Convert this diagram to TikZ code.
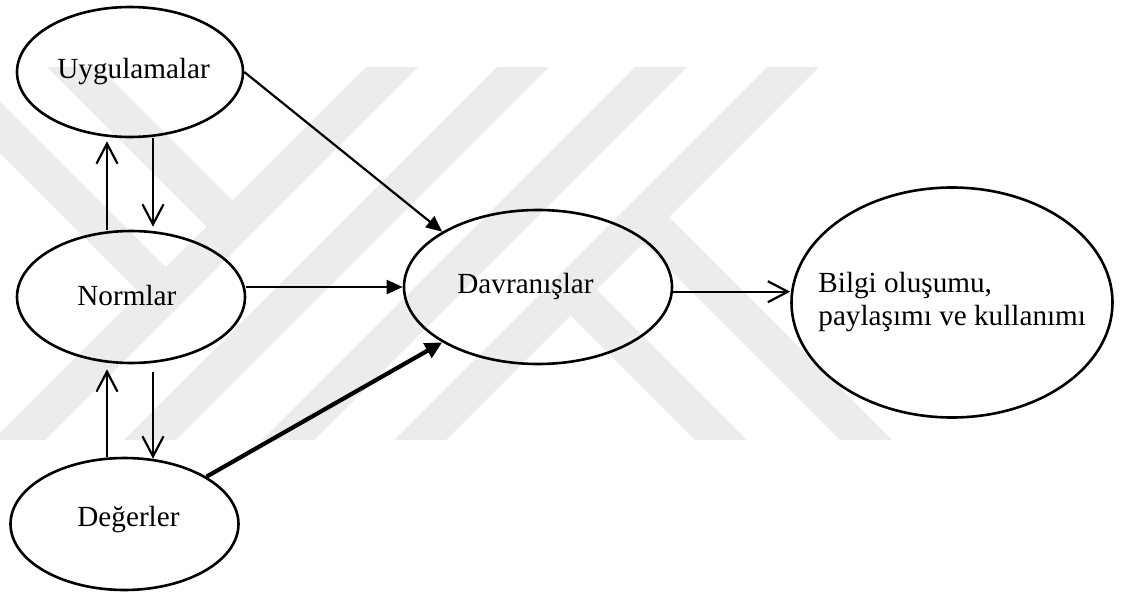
\documentclass[tikz,border=0pt]{standalone}
\usepackage{fontspec}
\setmainfont{Liberation Serif}
\usetikzlibrary{shapes.geometric,arrows.meta,calc}
\definecolor{wmgray}{RGB}{236,236,236}
\begin{document}
\begin{tikzpicture}[x=0.5pt,y=-0.5pt,
  bubble/.style={draw,ellipse,line width=1.3pt,inner sep=0pt},
  caption/.style={inner sep=0pt,anchor=base west,font=\fontsize{14.6pt}{16.5pt}\selectfont},
  link/.style={line width=1.1pt},
  thicklink/.style={line width=2.1pt},
  solidhead/.style={-{Triangle[length=8pt,width=7pt]}},
  bighead/.style={-{Triangle[length=8.5pt,width=8pt]}},
  openhead/.style={-{Straight Barb[length=10pt,width=10.5pt]}},
]
\useasboundingbox (0,0) rectangle (1130,594);

% faint background emblem
\begin{scope}
  \clip (0,0) rectangle (1130,594);
  \fill[wmgray] (-7,440)--(45,440)--(418,67)--(366,67)--cycle;
  \fill[wmgray] (124,440)--(176,440)--(549,67)--(497,67)--cycle;
  \fill[wmgray] (262,440)--(314,440)--(687,67)--(635,67)--cycle;
  \fill[wmgray] (394,440)--(446,440)--(819,67)--(767,67)--cycle;
  \fill[wmgray] (47,67)--(99,67)--(245.5,213.5)--(219.5,239.5)--cycle;
  \fill[wmgray] (-86,67)--(-34,67)--(179,280)--(153,306)--cycle;
  \fill[wmgray] (557.5,302.5)--(583.5,276.5)--(747,440)--(695,440)--cycle;
  \fill[wmgray] (630,230)--(656,204)--(892,440)--(840,440)--cycle;
\end{scope}

% ellipses
\node[bubble,minimum width=113pt,minimum height=65pt] (u) at (130,72) {};
\node[bubble,minimum width=114pt,minimum height=66pt] (n) at (131,297) {};
\node[bubble,minimum width=114pt,minimum height=66pt] (d) at (124.5,524) {};
\node[bubble,minimum width=134pt,minimum height=77pt] (v) at (538,287) {};
\node[bubble,minimum width=160.5pt,minimum height=115pt] (b) at (952,302.5) {};

% labels
\node[caption] (ut) at (57,78) {Uygulamalar};
\node[caption] (nt) at (77,305) {Normlar};
\node[caption] (dt) at (77,526) {Değerler};
\node[caption] (vt) at (457,293) {Davranışlar};
\node[caption] (bt1) at (818,292.5) {Bilgi oluşumu,};
\node[caption] (bt2) at (818,325.5) {paylaşımı ve kullanımı};

% two-way links in the left column
\draw[link,openhead] ($(n.north)+(-24,0)$) -- ($(u.south)+(-23,3)$);
\draw[link,openhead] ($(u.south)+(23,0)$) -- ($(n.north)+(22,-3)$);
\draw[link,openhead] ($(d.north)+(-17.5,0)$) -- ($(n.south)+(-24,5)$);
\draw[link,openhead] ($(n.south)+(22,8)$) -- ($(d.north)+(28.5,2)$);

% influences on behaviour
\draw[link,solidhead] (u.east) -- (v.150);
\draw[link,solidhead] (n.east |- v.west) -- (v.west);
\draw[thicklink,bighead] (d.30) -- (v.210);

% outcome
\draw[link,openhead] (v.-2) -- (v.-2 -| b.west);
\end{tikzpicture}
\end{document}
